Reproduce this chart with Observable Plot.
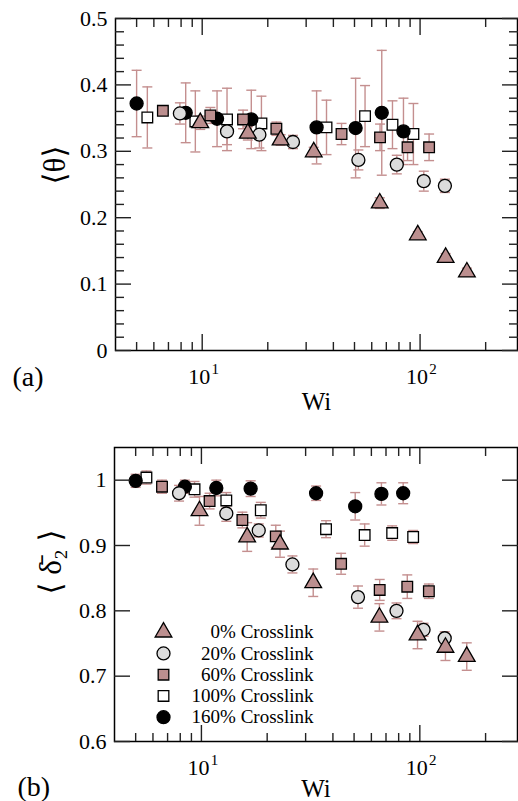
<!DOCTYPE html>
<html><head><meta charset="utf-8">
<script src="https://cdn.jsdelivr.net/npm/d3@7"></script>
<script src="https://cdn.jsdelivr.net/npm/@observablehq/plot@0.6"></script>
<style>
html,body{margin:0;padding:0;background:#fff;}
#chart{width:518px;height:801px;position:relative;overflow:hidden;background:#fff;}
#chart svg{display:block;}
#chart svg text{font-family:'Liberation Serif','Times New Roman','DejaVu Serif',serif;}
</style></head><body><div id="chart"></div>
<script>
// ---------- data ----------
const seriesNames = ["0% Crosslink", "20% Crosslink", "60% Crosslink", "100% Crosslink", "160% Crosslink"];

const wi0 = [9.8, 16.2, 22.9, 32.5, 65.3, 97.6, 131, 164];
const theta0 = [0.343, 0.327, 0.317, 0.299, 0.222, 0.174, 0.140, 0.118];
const thetaErr0 = [0.010, 0.010, 0.008, 0.007, 0.008, 0.005, 0.006, 0.006];
const delta0 = [0.953, 0.913, 0.902, 0.843, 0.790, 0.763, 0.744, 0.730];
const deltaErr0 = [0.022, 0.022, 0.020, 0.021, 0.021, 0.021, 0.020, 0.021];

const wi20 = [7.9, 13.0, 18.3, 26.1, 52.1, 78.2, 104, 130];
const theta20 = [0.357, 0.330, 0.325, 0.314, 0.287, 0.280, 0.255, 0.248];
const thetaErr20 = [0.016, 0.020, 0.020, 0.010, 0.015, 0.014, 0.015, 0.010];
const delta20 = [0.980, 0.949, 0.923, 0.871, 0.821, 0.800, 0.771, 0.758];
const deltaErr20 = [0.012, 0.012, 0.010, 0.013, 0.017, 0.012, 0.010, 0.010];

const wi60 = [6.6, 10.9, 15.4, 21.9, 43.6, 65.5, 87.6, 110];
const theta60 = [0.361, 0.354, 0.348, 0.334, 0.326, 0.321, 0.306, 0.306];
const thetaErr60 = [0.005, 0.012, 0.014, 0.010, 0.016, 0.020, 0.020, 0.020];
const delta60 = [0.990, 0.968, 0.939, 0.914, 0.872, 0.832, 0.837, 0.830];
const deltaErr60 = [0.010, 0.012, 0.012, 0.017, 0.016, 0.016, 0.018, 0.011];

const wi100 = [5.6, 9.3, 13.0, 18.7, 37.2, 55.9, 74.7, 93.2];
const theta100 = [0.351, 0.345, 0.348, 0.342, 0.336, 0.353, 0.340, 0.326];
const thetaErr100 = [0.046, 0.046, 0.047, 0.041, 0.041, 0.046, 0.036, 0.046];
const delta100 = [1.004, 0.986, 0.969, 0.954, 0.925, 0.916, 0.919, 0.913];
const deltaErr100 = [0.010, 0.012, 0.012, 0.012, 0.013, 0.017, 0.011, 0.010];

const wi160 = [5.0, 8.4, 11.7, 16.8, 33.5, 50.6, 66.7, 83.9];
const theta160 = [0.372, 0.358, 0.349, 0.348, 0.336, 0.335, 0.358, 0.330];
const thetaErr160 = [0.050, 0.045, 0.042, 0.044, 0.055, 0.075, 0.094, 0.050];
const delta160 = [0.999, 0.990, 0.988, 0.987, 0.980, 0.960, 0.979, 0.980];
const deltaErr160 = [0.010, 0.010, 0.012, 0.012, 0.011, 0.021, 0.017, 0.016];

const xMajor = [10, 100];
const xMinor = [5, 6, 7, 8, 9, 20, 30, 40, 50, 60, 70, 80, 90, 200];
const yMajorA = [0, 0.1, 0.2, 0.3, 0.4, 0.5];
const yMinorA = [0.02, 0.04, 0.06, 0.08, 0.12, 0.14, 0.16, 0.18, 0.22, 0.24, 0.26, 0.28, 0.32, 0.34, 0.36, 0.38, 0.42, 0.44, 0.46, 0.48];
const yMajorB = [0.6, 0.7, 0.8, 0.9, 1];

// ---------- styles ----------
const rosy = "#bc8f8f";
const errColor = "#c48f8f";
const styles = [
  {symbol: "triangle", fill: rosy, r: 6.2},
  {symbol: "circle", fill: "#dcdcdc", r: 6.5},
  {symbol: "square", fill: rosy, r: 6.0},
  {symbol: "square", fill: "#ffffff", r: 6.0},
  {symbol: "circle", fill: "#000000", r: 6.5}
];
const series = [
  {wi: wi0, theta: theta0, thetaErr: thetaErr0, delta: delta0, deltaErr: deltaErr0},
  {wi: wi20, theta: theta20, thetaErr: thetaErr20, delta: delta20, deltaErr: deltaErr20},
  {wi: wi60, theta: theta60, thetaErr: thetaErr60, delta: delta60, deltaErr: deltaErr60},
  {wi: wi100, theta: theta100, thetaErr: thetaErr100, delta: delta100, deltaErr: deltaErr100},
  {wi: wi160, theta: theta160, thetaErr: thetaErr160, delta: delta160, deltaErr: deltaErr160}
];
const rows = series.flatMap((s, si) => s.wi.map((w, i) => ({
  si, wi: w, theta: s.theta[i], thetaErr: s.thetaErr[i], delta: s.delta[i], deltaErr: s.deltaErr[i]
})));
const drawOrder = [3, 4, 2, 1, 0];

const hbar = {draw(ctx, size) { const r = Math.sqrt(size / Math.PI); ctx.moveTo(-r, 0); ctx.lineTo(r, 0); }};
const FONT = "'Liberation Serif', 'Times New Roman', 'DejaVu Serif', serif";

function panel(o) {
  const val = o.key, err = o.errKey;
  const marks = [];
  // error bars
  marks.push(Plot.ruleX(rows, {x: "wi", y1: d => d[val] - d[err], y2: d => d[val] + d[err], stroke: errColor, strokeWidth: 1.4}));
  marks.push(Plot.dot(rows, {x: "wi", y: d => d[val] - d[err], symbol: hbar, r: 5, fill: "none", stroke: errColor, strokeWidth: 1.4}));
  marks.push(Plot.dot(rows, {x: "wi", y: d => d[val] + d[err], symbol: hbar, r: 5, fill: "none", stroke: errColor, strokeWidth: 1.4}));
  // symbols
  for (const si of drawOrder) {
    const st = styles[si];
    marks.push(Plot.dot(rows.filter(d => d.si === si), {x: "wi", y: val, symbol: st.symbol, r: st.r, fill: st.fill, stroke: "#000", strokeWidth: 1.3}));
  }
  marks.push(Plot.frame({stroke: "#000", strokeWidth: 1.5}));
  // inward ticks (no text)
  const tk = {stroke: "#222", strokeWidth: 1.4, label: null, tickFormat: () => ""};
  marks.push(Plot.axisY(o.yMajor, {...tk, anchor: "left", tickSize: -16}));
  marks.push(Plot.axisY(o.yMajor, {...tk, anchor: "right", tickSize: -16}));
  if (o.yMinor) {
    marks.push(Plot.axisY(o.yMinor, {...tk, anchor: "left", tickSize: -9}));
    marks.push(Plot.axisY(o.yMinor, {...tk, anchor: "right", tickSize: -9}));
  }
  marks.push(Plot.axisX(xMajor, {...tk, anchor: "bottom", tickSize: -16}));
  marks.push(Plot.axisX(xMajor, {...tk, anchor: "top", tickSize: -16}));
  marks.push(Plot.axisX(xMinor, {...tk, anchor: "bottom", tickSize: -8}));
  marks.push(Plot.axisX(xMinor, {...tk, anchor: "top", tickSize: -8}));
  // tick labels (no tick lines)
  marks.push(Plot.axisY(o.yMajor, {anchor: "left", tickSize: 0, tickPadding: 8, tickFormat: d => String(d), fontSize: 22, label: null, fill: "#000"}));
  marks.push(Plot.axisX(xMajor, {anchor: "bottom", tickSize: 0, tickPadding: 18, tickFormat: () => "10", dx: -3, fontSize: 22, label: null, fill: "#000"}));
  marks.push(Plot.text(xMajor, {x: d => d, text: d => String(Math.round(Math.log10(d))), frameAnchor: "bottom", dy: o.expDy, dx: 13, fontSize: 15, lineAnchor: "top", fill: "#000"}));
  // titles
  marks.push(Plot.text(["Wi"], {text: d => d, frameAnchor: "bottom", dy: o.wiDy, lineAnchor: "top", fontSize: 25, fill: "#000"}));
  marks.push(Plot.text([o.ylabel], {text: d => d, frameAnchor: "left", dx: o.ylabelDx, rotate: -90, fontSize: 31, lineAnchor: "middle", fill: "#000"}));
  marks.push(Plot.text([o.tag], {text: d => d, frameAnchor: "bottom-left", dx: o.tagDx, dy: o.tagDy, textAnchor: "start", lineAnchor: "top", fontSize: 28, fill: "#000"}));
  if (o.legend) {
    seriesNames.forEach((name, si) => {
      const st = styles[si];
      const dy = 184.7 + si * 21.25;
      marks.push(Plot.dot([name], {frameAnchor: "top-left", dx: 49, dy, symbol: st.symbol, r: st.r, fill: st.fill, stroke: "#000", strokeWidth: 1.3}));
      marks.push(Plot.text([name], {text: d => d, frameAnchor: "top-left", dx: 199, dy, textAnchor: "end", lineAnchor: "middle", fontSize: 19, fill: "#000"}));
    });
  }
  return Plot.plot({
    width: 518, height: o.height,
    marginLeft: o.ml, marginRight: 1, marginTop: o.mt, marginBottom: o.mb,
    style: {fontFamily: FONT, fontSize: "22px", color: "#000", background: "#fff", overflow: "visible"},
    x: {type: "log", domain: [4, 280]},
    y: {domain: o.yDomain},
    marks
  });
}

const chart = document.getElementById("chart");
chart.append(panel({
  key: "theta", errKey: "thetaErr", yDomain: [0, 0.5], yMajor: yMajorA, yMinor: yMinorA,
  height: 420, ml: 115, mt: 18, mb: 70, expDy: 12.5, wiDy: 42, ylabel: "⟨θ⟩", ylabelDx: -60,
  tag: "(a)", tagDx: -103, tagDy: 16
}));
chart.append(panel({
  key: "delta", errKey: "deltaErr", yDomain: [0.6, 1.05], yMajor: yMajorB, yMinor: null,
  height: 381, ml: 114, mt: 27, mb: 60, expDy: 13, wiDy: 38, ylabel: "⟨ δ̄₂ ⟩", ylabelDx: -63,
  tag: "(b)", tagDx: -97, tagDy: 35, legend: true
}));
</script></body></html>
